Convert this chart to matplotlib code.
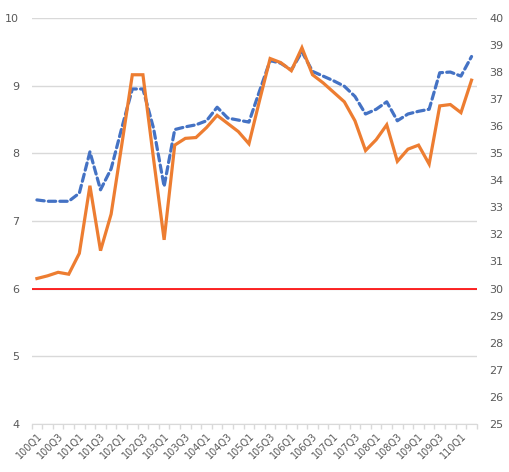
import matplotlib
matplotlib.use("Agg")
import matplotlib.pyplot as plt

# quarters 100Q1 .. 110Q2
quarters = [f"{y}Q{q}" for y in range(100, 111) for q in range(1, 5)][:42]

# left axis series (blue dashed)
blue = [7.31, 7.29, 7.29, 7.29, 7.41, 8.02, 7.46, 7.77, 8.37, 8.95,
        8.95, 8.37, 7.51, 8.35, 8.39, 8.42, 8.48, 8.68, 8.52, 8.49,
        8.46, 8.92, 9.37, 9.33, 9.23, 9.50, 9.21, 9.14, 9.07, 8.99,
        8.84, 8.58, 8.65, 8.76, 8.48, 8.58, 8.62, 8.65, 9.19, 9.20,
        9.14, 9.43]

# right axis series (orange)
orange = [30.37, 30.47, 30.6, 30.53, 31.3, 33.8, 31.4, 32.75, 35.3, 37.9,
          37.9, 34.8, 31.8, 35.3, 35.55, 35.58, 35.95, 36.4, 36.1, 35.8,
          35.35, 36.95, 38.5, 38.35, 38.05, 38.9, 37.9, 37.6, 37.25, 36.9,
          36.2, 35.1, 35.5, 36.05, 34.7, 35.15, 35.3, 34.6, 36.75, 36.8,
          36.5, 37.7]

ref_level = 6

grey_text = "#595959"
grid_col = "#d9d9d9"

fig = plt.figure(figsize=(5.1, 4.72), dpi=100)
ax = fig.add_axes([0.062, 0.102, 0.873, 0.860])
ax2 = ax.twinx()

x = list(range(len(quarters)))

ax.set_ylim(4, 10)
ax.set_yticks(range(4, 11))
ax.yaxis.grid(True, color=grid_col, linewidth=1)
ax.set_axisbelow(True)
ax.axhline(ref_level, color="#ff0000", linewidth=1.2, zorder=2)
ax.plot(x, blue, color="#4472C4", linewidth=2.3, linestyle=(0, (2.3, 1.3)),
        dash_capstyle="round", zorder=3)

ax2.set_ylim(25, 40)
ax2.set_yticks(range(25, 41))
ax2.plot(x, orange, color="#ED7D31", linewidth=2.3, solid_joinstyle="miter", zorder=3)

ax.set_xlim(-0.5, len(quarters) - 0.5)
ax.set_xticks(x[::2])
ax.set_xticklabels(quarters[::2], rotation=45, ha="right", va="top",
                   rotation_mode="anchor", fontsize=7, color=grey_text)
ax.set_xticks([i - 0.5 for i in range(len(quarters) + 1)], minor=True)
ax.tick_params(axis="x", which="major", length=0, pad=5)
ax.tick_params(axis="x", which="minor", length=3.5, color=grid_col, width=1)

ax.tick_params(axis="y", length=0, labelsize=8, labelcolor=grey_text, pad=9)
ax2.tick_params(axis="y", length=0, labelsize=8, labelcolor=grey_text, pad=9)

for a in (ax, ax2):
    for side in ("top", "left", "right"):
        a.spines[side].set_visible(False)
ax.spines["bottom"].set_color(grid_col)
ax2.spines["bottom"].set_visible(False)

fig.savefig("out.png", dpi=100)
plt.close(fig)
